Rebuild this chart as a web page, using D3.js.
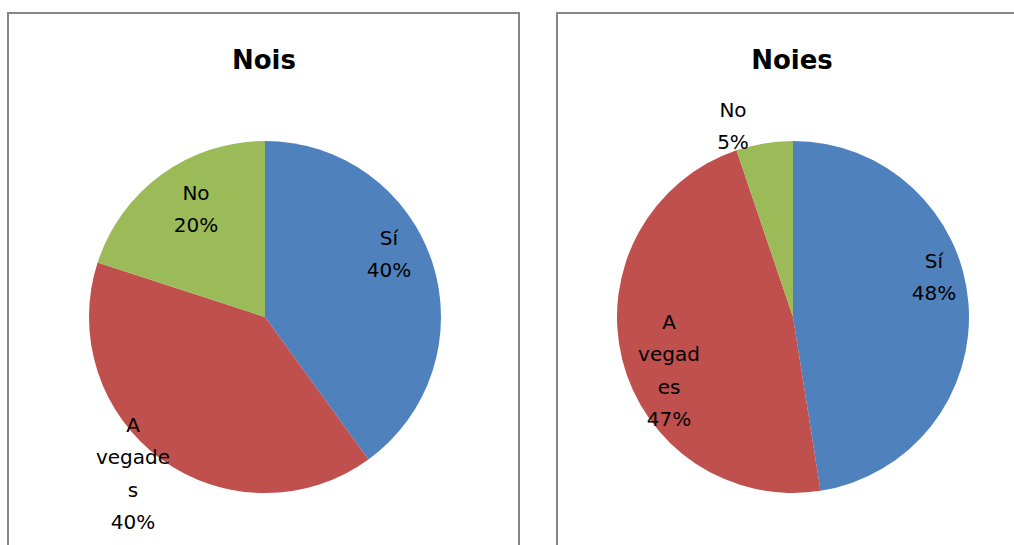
<!DOCTYPE html>
<html>
<head>
<meta charset="utf-8">
<script src="https://cdn.jsdelivr.net/npm/d3@7"></script>
<style>
  html, body { margin: 0; padding: 0; background: #fff; }
  svg { display: block; }
</style>
</head>
<body>
<div id="chart"></div>
<script>
// Categories, shared by both pies
const categories = ['Sí', 'A vegades', 'No']

// Series values (percent)
const noisValues = [40, 40, 20]
const noiesValues = [47.5, 47.3, 5.2]

// Chart titles
const titles = ['Nois', 'Noies']

const colors = ['#4F81BD', '#C0504D', '#9BBB59']

;(function () {
  const width = 1014
  const height = 545
  const radius = 176

  // label placement (offset from pie centre, first baseline) and wrap width per chart
  const panels = [
    {
      title: titles[0],
      values: noisValues,
      box: { x: 8, w: 511 },
      cx: 265,
      wrap: 80,
      labels: [{ dx: 124, dy: -72 }, { dx: -132, dy: 115 }, { dx: -69, dy: -117 }]
    },
    {
      title: titles[1],
      values: noiesValues,
      box: { x: 557, w: 600 },
      cx: 793,
      wrap: 70,
      labels: [{ dx: 141, dy: -49 }, { dx: -124, dy: 12 }, { dx: -60, dy: -200 }]
    }
  ]
  const cy = 317
  const lineH = 32.4

  const svg = d3.select('#chart').append('svg')
    .attr('width', width)
    .attr('height', height)

  const pie = d3.pie().sort(null).value(d => d)
  const arc = d3.arc().innerRadius(0).outerRadius(radius)

  // helper to measure text width
  const measure = svg.append('text')
    .style('font-family', 'DejaVu Sans')
    .style('font-size', '20px')
    .attr('visibility', 'hidden')
  function textWidth (s) {
    measure.text(s)
    return measure.node().getComputedTextLength()
  }

  // wrap like Excel: words first, then split words that are too long
  function wrapText (s, maxW) {
    const lines = []
    let line = ''
    s.split(' ').forEach(word => {
      const test = line ? line + ' ' + word : word
      if (textWidth(test) <= maxW) {
        line = test
        return
      }
      if (line) lines.push(line)
      line = ''
      let rest = word
      while (textWidth(rest) > maxW) {
        let n = rest.length
        while (n > 1 && textWidth(rest.slice(0, n)) > maxW) n--
        lines.push(rest.slice(0, n))
        rest = rest.slice(n)
      }
      line = rest
    })
    if (line) lines.push(line)
    return lines
  }

  panels.forEach(p => {
    const g = svg.append('g')

    // chart area border
    g.append('rect')
      .attr('x', p.box.x)
      .attr('y', 13)
      .attr('width', p.box.w)
      .attr('height', 600)
      .attr('fill', '#fff')
      .attr('stroke', '#878787')
      .attr('stroke-width', 2)

    // title
    g.append('text')
      .attr('x', p.cx - 1)
      .attr('y', 69)
      .attr('text-anchor', 'middle')
      .style('font-family', 'DejaVu Sans')
      .style('font-weight', 'bold')
      .style('font-size', '26px')
      .attr('fill', '#000')
      .text(p.title)

    const pieG = g.append('g')
      .attr('transform', 'translate(' + p.cx + ',' + cy + ')')

    const arcs = pie(p.values)

    pieG.selectAll('path')
      .data(arcs)
      .enter().append('path')
      .attr('d', arc)
      .attr('fill', (d, i) => colors[i])

    // data labels: category + rounded percentage
    arcs.forEach((d, i) => {
      const lines = wrapText(categories[i], p.wrap)
      lines.push(Math.round(d.data) + '%')
      const pos = p.labels[i]
      const t = pieG.append('text')
        .attr('text-anchor', 'middle')
        .style('font-family', 'DejaVu Sans')
        .style('font-size', '20px')
        .attr('fill', '#000')
      lines.forEach((ln, k) => {
        t.append('tspan')
          .attr('x', pos.dx)
          .attr('y', pos.dy + k * lineH)
          .text(ln)
      })
    })
  })

  measure.remove()
}())
</script>
</body>
</html>
